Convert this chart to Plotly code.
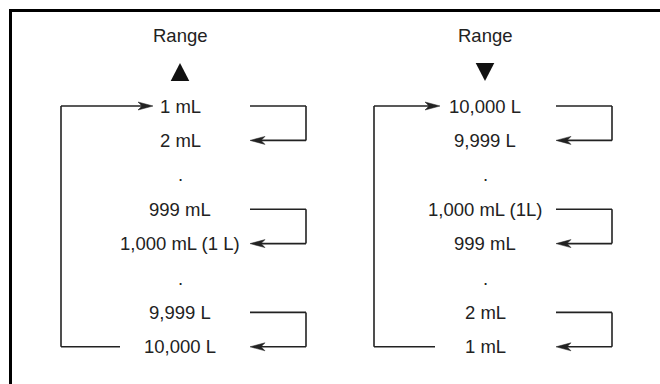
import plotly.graph_objects as go

left_labels = ["1 mL", "2 mL", ".", "999 mL", "1,000 mL (1 L)", ".", "9,999 L", "10,000 L"]
right_labels = ["10,000 L", "9,999 L", ".", "1,000 mL (1L)", "999 mL", ".", "2 mL", "1 mL"]
header = "Range"
pairs = [(0, 1), (3, 4), (6, 7)]

W, H = 660, 384
row0, row_step = 106, 34.4
ink = "#222222"
font = dict(family="Liberation Sans, Arial, sans-serif", size=18.5, color=ink)

# column layout: text centre, loop x, top arrow tip, bottom line end, bracket x range, triangle dir
panels = [
    dict(labels=left_labels, cx=180, loop_x=61, top_tip=153, bot_end=120, br=(250, 306), up=True),
    dict(labels=right_labels, cx=485, loop_x=374, top_tip=440, bot_end=435, br=(556, 612), up=False),
]


def row_y(i):
    return row0 + row_step * i


def line(x0, y0, x1, y1):
    return dict(type="line", x0=x0, y0=y0, x1=x1, y1=y1, xref="x", yref="y",
                line=dict(color=ink, width=1.6))


def dart(x, y, d, L=15, h=4, n=4):
    # filled arrowhead, tip at (x, y), pointing in direction d (+1 right, -1 left)
    path = (f"M{x},{y} L{x - d * L},{y - h} L{x - d * (L - n)},{y} "
            f"L{x - d * L},{y + h} Z")
    return dict(type="path", path=path, xref="x", yref="y",
                fillcolor=ink, line=dict(color=ink, width=0.5))


def triangle(cx, cy, up, w=18.6, h=18):
    if up:
        path = f"M{cx - w / 2},{cy + h / 2} L{cx + w / 2},{cy + h / 2} L{cx},{cy - h / 2} Z"
    else:
        path = f"M{cx - w / 2},{cy - h / 2} L{cx + w / 2},{cy - h / 2} L{cx},{cy + h / 2} Z"
    return dict(type="path", path=path, xref="x", yref="y",
                fillcolor="#111111", line=dict(color="#111111", width=0))


shapes = []
annotations = []

# outer frame (right and bottom edges sit outside the picture)
shapes.append(dict(type="rect", x0=10.5, y0=10.5, x1=W + 40, y1=H + 40, xref="x", yref="y",
                   line=dict(color="#000000", width=3), fillcolor="rgba(0,0,0,0)"))

for p in panels:
    cx = p["cx"]
    annotations.append(dict(x=cx, y=35, text=header, showarrow=False, xref="x", yref="y",
                            xanchor="center", yanchor="middle", font=font))
    shapes.append(triangle(cx, 72, p["up"]))

    for i, lab in enumerate(p["labels"]):
        annotations.append(dict(x=cx, y=row_y(i), text=lab, showarrow=False, xref="x", yref="y",
                                xanchor="center", yanchor="middle", font=font))

    # big loop from last row back to first row
    y_top, y_bot = row_y(0), row_y(len(p["labels"]) - 1)
    lx = p["loop_x"]
    shapes.append(line(p["bot_end"], y_bot, lx, y_bot))
    shapes.append(line(lx, y_bot, lx, y_top))
    shapes.append(line(lx, y_top, p["top_tip"] - 11, y_top))
    shapes.append(dart(p["top_tip"], y_top, 1))

    # step brackets
    bx0, bx1 = p["br"]
    for a, b in pairs:
        ya, yb = row_y(a), row_y(b)
        shapes.append(line(bx0, ya, bx1, ya))
        shapes.append(line(bx1, ya, bx1, yb))
        shapes.append(line(bx1, yb, bx0 + 11, yb))
        shapes.append(dart(bx0, yb, -1))

fig = go.Figure()
fig.add_trace(go.Scatter(x=[0, W], y=[0, H], mode="markers",
                         marker=dict(opacity=0), hoverinfo="skip", showlegend=False))
fig.update_layout(
    width=W, height=H,
    margin=dict(l=0, r=0, t=0, b=0),
    paper_bgcolor="white", plot_bgcolor="white",
    shapes=shapes, annotations=annotations,
    xaxis=dict(range=[0, W], visible=False, fixedrange=True),
    yaxis=dict(range=[H, 0], visible=False, fixedrange=True),
    showlegend=False,
)
fig.write_html("out.html", config={"displayModeBar": False},
               post_script="document.body.style.margin='0';")
